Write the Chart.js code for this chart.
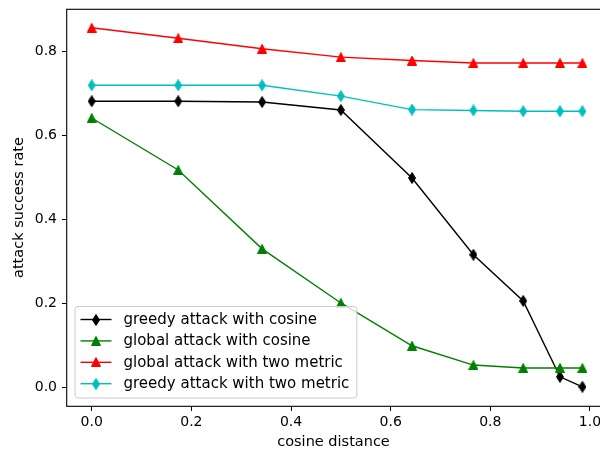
<!DOCTYPE html>
<html>
<head>
<meta charset="utf-8">
<script src="https://cdn.jsdelivr.net/npm/chart.js@4.4.0/dist/chart.umd.min.js"></script>
<style>
    html, body { margin: 0; padding: 0; background: #fff; }
    #wrap { width: 600px; height: 452px; }
</style>
</head>
<body>
<div id="wrap"><canvas id="attackChart"></canvas></div>
<script>
// data
const cosineDistance = [0, 0.1736, 0.342, 0.5, 0.6428, 0.766, 0.866, 0.9397, 0.9848]
const greedyCosine = [0.682, 0.682, 0.68, 0.661, 0.499, 0.316, 0.206, 0.025, 0.001]
const globalCosine = [0.642, 0.518, 0.33, 0.201, 0.099, 0.053, 0.046, 0.046, 0.046]
const globalTwoMetric = [0.857, 0.832, 0.807, 0.787, 0.779, 0.773, 0.773, 0.773, 0.773]
const greedyTwoMetric = [0.72, 0.72, 0.72, 0.694, 0.662, 0.66, 0.658, 0.658, 0.658]
const seriesLabels = [
    'greedy attack with cosine',
    'global attack with cosine',
    'global attack with two metric',
    'greedy attack with two metric',
]
const xTicks = [0, 0.2, 0.4, 0.6, 0.8, 1.0]
const yTicks = [0, 0.2, 0.4, 0.6, 0.8]

const tickFont = { family: 'DejaVu Sans', size: 14 }
const titleFont = { family: 'DejaVu Sans', size: 14.5 }

// matplotlib-like markers
function marker(shape, color) {
    const c = document.createElement('canvas')
    const g = c.getContext('2d')
    if (shape === 'triangle') {
        c.width = 10
        c.height = 10
    } else {
        c.width = 8
        c.height = 12
    }
    g.fillStyle = color
    g.strokeStyle = color
    g.lineWidth = 1
    g.beginPath()
    if (shape === 'triangle') {
        g.moveTo(5, 0.5)
        g.lineTo(9.5, 9.5)
        g.lineTo(0.5, 9.5)
    } else {
        g.moveTo(4, 0.5)
        g.lineTo(7.5, 6)
        g.lineTo(4, 11.5)
        g.lineTo(0.5, 6)
    }
    g.closePath()
    g.fill()
    g.stroke()
    return c
}

const series = [
    { values: greedyCosine, color: '#000000', shape: 'diamond' },
    { values: globalCosine, color: '#008000', shape: 'triangle' },
    { values: globalTwoMetric, color: '#ff0000', shape: 'triangle' },
    { values: greedyTwoMetric, color: '#00bfbf', shape: 'diamond' },
]

const datasets = series.map((s, i) => ({
    label: seriesLabels[i],
    data: cosineDistance.map((x, j) => ({ x: x, y: s.values[j] })),
    borderColor: s.color,
    backgroundColor: s.color,
    borderWidth: 1.4,
    pointStyle: marker(s.shape, s.color),
    pointRadius: 5,
    tension: 0,
    order: series.length - i,
}))

const frameAndLegend = {
    id: 'frameAndLegend',
    afterDatasetsDraw(chart) {
        const { ctx, chartArea } = chart
        ctx.save()
        ctx.strokeStyle = '#000'
        ctx.lineWidth = 1.1
        ctx.strokeRect(chartArea.left - 0.3, chartArea.top + 0.3, chartArea.right - chartArea.left + 5, chartArea.bottom - chartArea.top)

        // legend box
        const left = chartArea.left + 8
        const bottom = chartArea.bottom - 8
        const top = bottom - 91.5
        ctx.font = '15px "DejaVu Sans"'
        const textW = Math.max(...seriesLabels.map(t => ctx.measureText(t).width))
        const width = 49 + textW + 7
        const r = 3
        ctx.beginPath()
        ctx.moveTo(left + r, top)
        ctx.arcTo(left + width, top, left + width, top + r, r)
        ctx.arcTo(left + width, bottom, left + width - r, bottom, r)
        ctx.arcTo(left, bottom, left, bottom - r, r)
        ctx.arcTo(left, top, left + r, top, r)
        ctx.closePath()
        ctx.fillStyle = 'rgba(255,255,255,0.8)'
        ctx.fill()
        ctx.strokeStyle = '#cccccc'
        ctx.lineWidth = 1
        ctx.stroke()

        series.forEach((s, i) => {
            const y = top + 13 + i * 21.4
            ctx.strokeStyle = s.color
            ctx.lineWidth = 1.4
            ctx.beginPath()
            ctx.moveTo(left + 5.5, y)
            ctx.lineTo(left + 36.5, y)
            ctx.stroke()
            const m = datasets[i].pointStyle
            ctx.drawImage(m, Math.round(left + 21 - m.width / 2), Math.round(y - m.height / 2))
            ctx.fillStyle = '#000'
            ctx.textBaseline = 'middle'
            ctx.textAlign = 'left'
            ctx.fillText(seriesLabels[i], left + 48.5, y + 0.5)
        })
        ctx.restore()
    },
}

new Chart(document.getElementById('attackChart').getContext('2d'), {
    type: 'line',
    data: { datasets: datasets },
    options: {
        responsive: true,
        maintainAspectRatio: false,
        animation: false,
        layout: { autoPadding: false, padding: { top: 9, right: 0, bottom: 0, left: 0 } },
        plugins: {
            legend: { display: false },
            tooltip: { enabled: false },
        },
        scales: {
            x: {
                type: 'linear',
                min: -0.0496,
                max: 1.0201,
                afterBuildTicks: scale => {
                    scale.ticks = xTicks.map(v => ({ value: v }))
                },
                afterFit: scale => {
                    scale.height = 46
                    scale.paddingLeft = 0
                    scale.paddingRight = 0
                },
                ticks: {
                    callback: v => v.toFixed(1),
                    color: '#000',
                    font: tickFont,
                    padding: 3,
                    maxRotation: 0,
                    autoSkip: false,
                },
                grid: { drawOnChartArea: false, tickLength: 5, color: '#000', tickWidth: 1 },
                border: { display: false },
                title: {
                    display: true,
                    text: 'cosine distance',
                    color: '#000',
                    font: titleFont,
                    padding: { top: 0, bottom: 1 },
                },
            },
            y: {
                min: -0.0446,
                max: 0.9018,
                afterBuildTicks: scale => {
                    scale.ticks = yTicks.map(v => ({ value: v }))
                },
                afterFit: scale => {
                    scale.width = 67
                    scale.paddingTop = 0
                    scale.paddingBottom = 0
                },
                ticks: {
                    callback: v => v.toFixed(1),
                    color: '#000',
                    font: tickFont,
                    padding: 5,
                },
                grid: { drawOnChartArea: false, tickLength: 5, color: '#000', tickWidth: 1 },
                border: { display: false },
                title: {
                    display: true,
                    text: 'attack success rate',
                    color: '#000',
                    font: titleFont,
                    padding: { top: 11, bottom: 0 },
                },
            },
        },
    },
    plugins: [frameAndLegend],
})
</script>
</body>
</html>
